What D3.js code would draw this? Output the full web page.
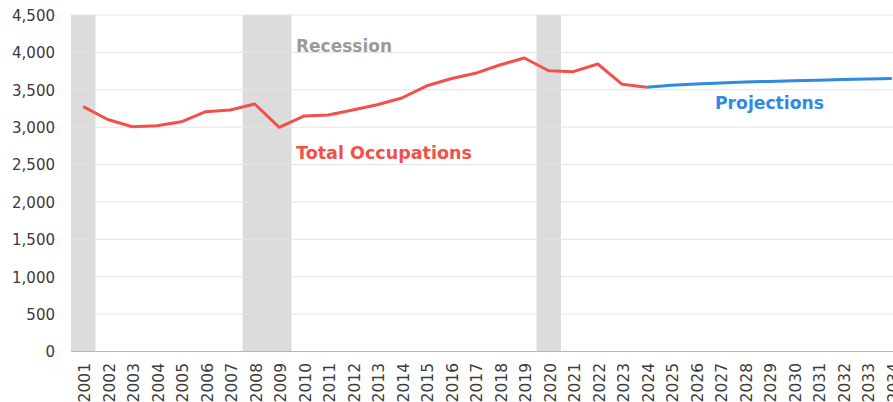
<!DOCTYPE html>
<html>
<head>
<meta charset="utf-8">
<script src="https://cdn.jsdelivr.net/npm/d3@7"></script>
<style>
  html, body { margin: 0; padding: 0; background: #fff; overflow: hidden; }
  svg { display: block; }
</style>
</head>
<body>
<svg id="chart" width="893" height="402"></svg>
<script>
// Years on the category axis
const years = ["2001","2002","2003","2004","2005","2006","2007","2008","2009","2010",
  "2011","2012","2013","2014","2015","2016","2017","2018","2019","2020",
  "2021","2022","2023","2024","2025","2026","2027","2028","2029","2030",
  "2031","2032","2033","2034"];

// Historical employment, total occupations
const actualYears = ["2001","2002","2003","2004","2005","2006","2007","2008","2009","2010",
  "2011","2012","2013","2014","2015","2016","2017","2018","2019","2020",
  "2021","2022","2023","2024"];
const actualValues = [3275, 3102, 3005, 3020, 3071, 3207, 3230, 3310, 2998, 3148,
  3163, 3229, 3300, 3390, 3550, 3648, 3720, 3831, 3925, 3755,
  3742, 3845, 3573, 3535];

// Projected employment
const projYears = ["2024","2025","2026","2027","2028","2029","2030","2031","2032","2033","2034"];
const projValues = [3535, 3560, 3578, 3592, 3603, 3612, 3620, 3628, 3636, 3643, 3650];

// Recession years shaded in the background
const recessionYears = ["2001","2008","2009","2020"];

// Value axis ticks
const yTicks = [0, 500, 1000, 1500, 2000, 2500, 3000, 3500, 4000, 4500];

const svg = d3.select("#chart");
const left = 71, step = 24.5;
const x = d3.scaleBand().domain(years).range([left, left + step * years.length]).padding(0);
const y = d3.scaleLinear().domain([0, 4500]).range([351.5, 15]);
const cx = d => x(d) + x.bandwidth() / 2;

// Recession shading
svg.append("g").selectAll("rect").data(recessionYears).join("rect")
  .attr("x", d => x(d)).attr("y", y(4500))
  .attr("width", x.bandwidth()).attr("height", y(0) - y(4500))
  .attr("fill", "#dcdcdc");

// Gridlines
svg.append("g").selectAll("line").data(yTicks.filter(t => t > 0)).join("line")
  .attr("x1", left).attr("x2", 893)
  .attr("y1", d => y(d)).attr("y2", d => y(d))
  .attr("stroke", "#e3e3e3").attr("stroke-width", 1);

// Baseline
svg.append("line").attr("x1", left).attr("x2", 893)
  .attr("y1", y(0)).attr("y2", y(0))
  .attr("stroke", "#b5b5b5").attr("stroke-width", 1.2);

// Y axis labels
const yAxis = d3.axisLeft(y).tickValues(yTicks).tickSize(0).tickPadding(0)
  .tickFormat(d3.format(","));
const gy = svg.append("g").attr("transform", "translate(55,0)").call(yAxis);
gy.select(".domain").remove();
gy.selectAll("text")
  .attr("font-family", "'DejaVu Sans', sans-serif")
  .attr("font-size", 15).attr("fill", "#3a3a3a").attr("dy", "0.36em");

// X axis labels, rotated
const xAxis = d3.axisBottom(x).tickSize(0).tickPadding(0);
const gx = svg.append("g").attr("transform", `translate(0,${y(0)})`).call(xAxis);
gx.select(".domain").remove();
gx.selectAll("text")
  .attr("font-family", "'DejaVu Sans', sans-serif")
  .attr("font-size", 15.5).attr("fill", "#3a3a3a")
  .attr("transform", "rotate(-90)")
  .attr("text-anchor", "end")
  .attr("x", -11.5).attr("y", 0).attr("dy", "0.38em");
gx.selectAll(".tick").attr("transform", d => `translate(${cx(d) + 1},0)`);

// Lines
const line = d3.line().x(d => cx(d[0])).y(d => y(d[1]));
svg.append("path")
  .datum(actualYears.map((yr, i) => [yr, actualValues[i]]))
  .attr("d", line).attr("fill", "none")
  .attr("stroke", "#f4504a").attr("stroke-width", 3)
  .attr("stroke-linejoin", "round");
svg.append("path")
  .datum(projYears.map((yr, i) => [yr, projValues[i]]))
  .attr("d", line).attr("fill", "none")
  .attr("stroke", "#2e8ae2").attr("stroke-width", 3)
  .attr("stroke-linejoin", "round");

// Annotations
const notes = [
  { text: "Recession", x: 296, y: 52, w: 96, color: "#9b9b9b" },
  { text: "Total Occupations", x: 296, y: 158.5, w: 176, color: "#f4504a" },
  { text: "Projections", x: 715, y: 109, w: 109, color: "#2e8ae2" }
];
svg.append("g").selectAll("text").data(notes).join("text")
  .attr("x", d => d.x).attr("y", d => d.y)
  .attr("font-family", "'DejaVu Sans', sans-serif")
  .attr("font-weight", "bold").attr("font-size", 17.5)
  .attr("textLength", d => d.w).attr("lengthAdjust", "spacingAndGlyphs")
  .attr("fill", d => d.color)
  .text(d => d.text);
</script>
</body>
</html>
